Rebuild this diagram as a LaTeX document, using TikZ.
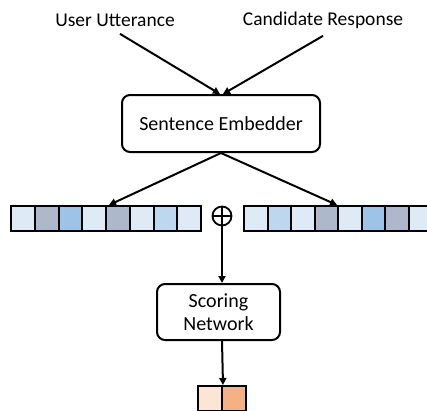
\documentclass[tikz,border=0pt]{standalone}
\usepackage{fontspec}
\setmainfont{Carlito}
\usetikzlibrary{arrows.meta,calc}
\definecolor{cA}{RGB}{222,235,247}
\definecolor{cB}{RGB}{173,185,202}
\definecolor{cC}{RGB}{157,195,230}
\definecolor{cD}{RGB}{189,215,238}
\definecolor{oA}{RGB}{251,229,214}
\definecolor{oB}{RGB}{244,177,131}
\tikzset{
  arr/.style={line width=2pt,-{Triangle[length=7pt,width=7pt]}},
  roundbox/.style={draw,line width=2pt,rounded corners=8pt,align=center,font=\fontsize{20}{23}\selectfont},
  lbl/.style={font=\fontsize{19.5}{22}\selectfont},
  cell/.style={draw,line width=2pt,minimum height=25pt,inner sep=0pt,anchor=north west},
  ocell/.style={draw,line width=2pt,minimum width=24pt,minimum height=25pt,inner sep=0pt,anchor=north west},
}
\begin{document}
\begin{tikzpicture}[x=1pt,y=-1pt]
\useasboundingbox (0,0) rectangle (427,410);
\clip (0,0) rectangle (427,410);
\node[lbl] (ua) at (115,20) {User Utterance};
\node[lbl] (cr) at (323,20) {Candidate Response};
\node[roundbox,minimum width=198pt,minimum height=57pt] (emb) at (221,123.5) {Sentence Embedder};
\foreach \c [count=\i] in {cA,cB,cC,cA,cB,cA,cD,cA}{
  \node[cell,fill=\c,minimum width=23.75pt] (l\i) at ({10+(\i-1)*23.75},205) {};
}
\foreach \c [count=\i] in {cA,cD,cA,cB,cA,cC,cB,cA}{
  \node[cell,fill=\c,minimum width=23.5pt] (r\i) at ({243+(\i-1)*23.5},205) {};
}
\node[draw,circle,line width=1.8pt,minimum size=19pt,inner sep=0pt,
  path picture={\draw[line width=1.8pt] (path picture bounding box.north) -- (path picture bounding box.south)
  (path picture bounding box.west) -- (path picture bounding box.east);}] (op) at (222,216) {};
\node[roundbox,minimum width=123pt,minimum height=56pt] (sn) at (218.5,312) {Scoring\\Network};
\node[ocell,fill=oA] (o1) at (197,385) {};
\node[ocell,fill=oB] (o2) at (221,385) {};
\draw[arr] (ua.south) ++(5,4) coordinate (uas) -- ([xshift=-1pt]emb.north);
\draw[arr] (cr.south) ++(0,4) coordinate (crs) -- ([xshift=2pt]emb.north);
\draw[arr] (emb.south) -- ([xshift=2pt]l4.north east);
\draw[arr] (emb.south) -- ([xshift=-2pt]r4.north east);
\draw[arr] (op.south) -- (op |- sn.north);
\draw[arr] (op |- sn.south) -- (o1.north east);
\end{tikzpicture}
\end{document}
